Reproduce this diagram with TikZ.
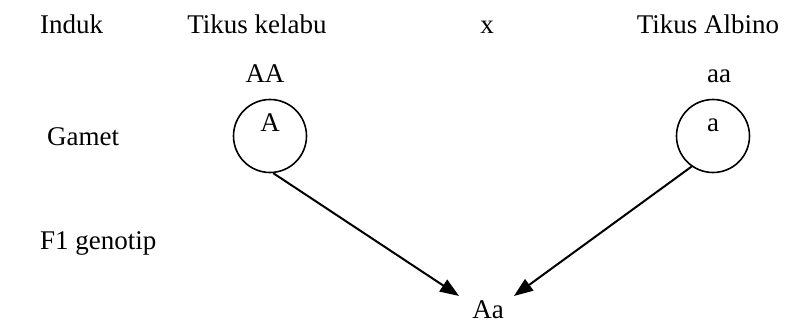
\documentclass[tikz,border=0pt]{standalone}
\usepackage{fontspec}
\setmainfont{Liberation Serif}
\usetikzlibrary{arrows.meta}
\begin{document}
\begin{tikzpicture}[x=1pt,y=-1pt,font=\fontsize{27}{31}\selectfont]
\useasboundingbox (0,0) rectangle (800,324);
\tikzset{txt/.style={inner sep=0pt},
  gamet/.style={draw,circle,line width=1.6pt,minimum size=73pt,inner sep=0pt},
  cross/.style={-{Triangle[length=19pt,width=14pt]},line width=2pt}}
\node[txt,anchor=base west] (induk) at (40,33) {Induk};
\node[txt,anchor=base] (kelabu) at (257,33) {Tikus kelabu};
\node[txt,anchor=base] (kali) at (487,33) {x};
\node[txt,anchor=base] (albino) at (708,33) {Tikus Albino};
\node[txt,anchor=base] (AA) at (265,82) {AA};
\node[txt,anchor=base] (aa) at (719,82) {aa};
\node[txt,anchor=base west] (gamet) at (47,145) {Gamet};
\node[gamet] (gA) at (270,136) {};
\node[gamet] (ga) at (713,136) {};
\node[txt,anchor=base] (A) at (270,131) {A};
\node[txt,anchor=base] (a) at (713,131) {a};
\node[txt,anchor=base west] (f1) at (40,249) {F1 genotip};
\node[txt,anchor=base] (Aa) at (488,318) {Aa};
\draw[cross] (gA.-85) -- ([xshift=-13pt,yshift=4pt]Aa.north west);
\draw[cross] (ga.-125) -- ([xshift=10pt,yshift=4pt]Aa.north east);
\end{tikzpicture}
\end{document}
